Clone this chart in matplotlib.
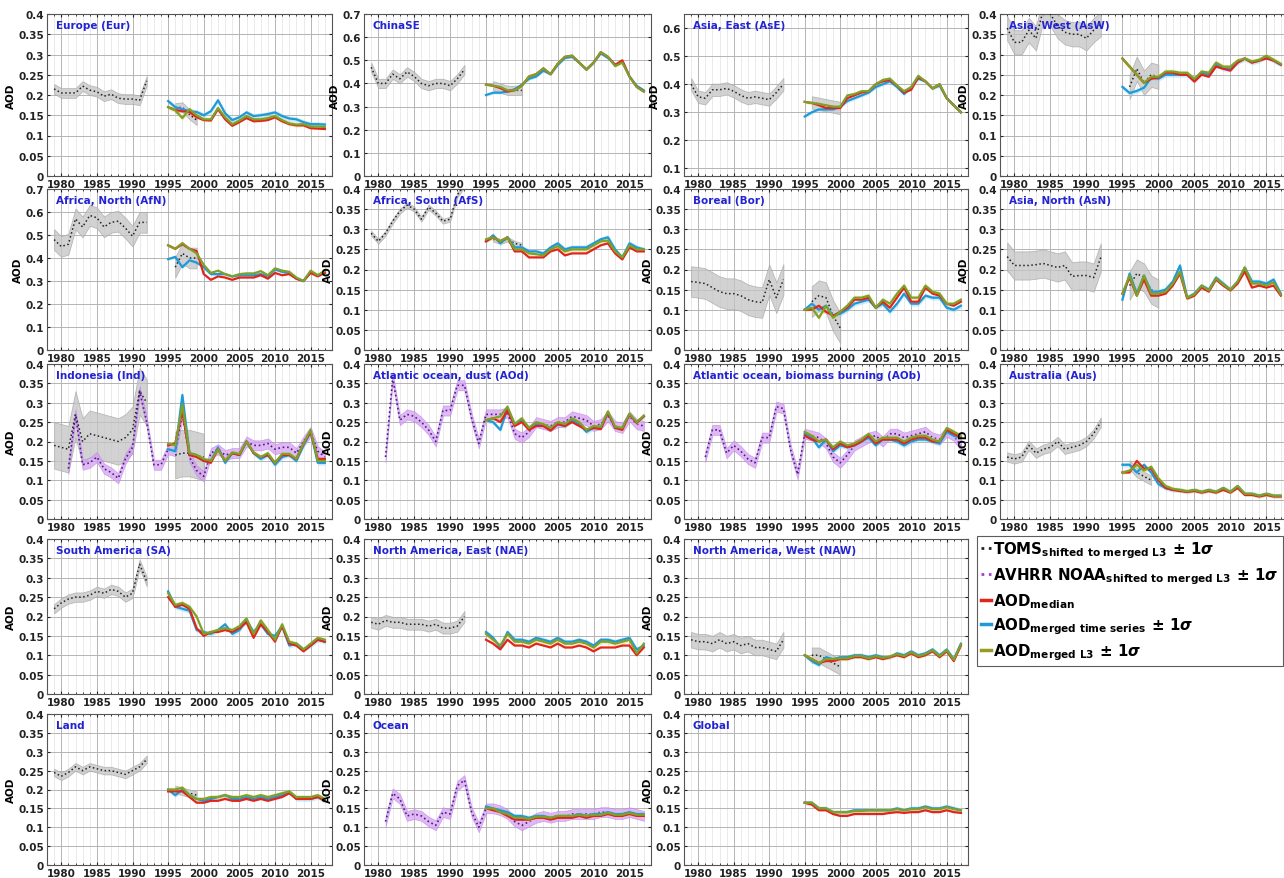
import numpy as np
import matplotlib.pyplot as plt
from matplotlib.ticker import MultipleLocator, FuncFormatter
from matplotlib.lines import Line2D

plt.rcParams['font.family'] = 'DejaVu Sans'
plt.rcParams['font.weight'] = 'bold'
plt.rcParams['mathtext.fontset'] = 'dejavusans'

# ---------------- data ----------------
yr_toms = np.arange(1979, 1993)
yr_avhrr = np.arange(1981, 2018)
yr_merged = np.arange(1995, 2018)

# Europe
eur_toms = [0.215, 0.205, 0.205, 0.205, 0.222, 0.212, 0.208, 0.197, 0.202, 0.192, 0.19, 0.19, 0.187, 0.235]
eur_toms2 = [0.168, 0.17, 0.152, 0.138]
eur_ts = [0.185, 0.17, 0.165, 0.16, 0.158, 0.15, 0.16, 0.187, 0.155, 0.138, 0.145, 0.157, 0.148, 0.15, 0.153, 0.157, 0.148, 0.142, 0.14, 0.133, 0.128, 0.128, 0.127]
eur_med = [0.17, 0.163, 0.16, 0.158, 0.145, 0.138, 0.137, 0.165, 0.14, 0.124, 0.133, 0.143, 0.135, 0.136, 0.138, 0.145, 0.135, 0.128, 0.125, 0.125, 0.118, 0.117, 0.116]
eur_l3 = [0.17, 0.162, 0.143, 0.165, 0.15, 0.14, 0.14, 0.168, 0.145, 0.128, 0.137, 0.148, 0.14, 0.14, 0.143, 0.148, 0.138, 0.13, 0.127, 0.128, 0.122, 0.122, 0.121]

# China SE
chn_toms = [0.47, 0.4, 0.4, 0.44, 0.42, 0.45, 0.43, 0.4, 0.39, 0.4, 0.4, 0.39, 0.42, 0.46]
chn_toms2 = [0.39, 0.38, 0.37, 0.37, 0.37]
chn_ts = [0.35, 0.36, 0.36, 0.365, 0.375, 0.395, 0.42, 0.43, 0.455, 0.44, 0.48, 0.51, 0.515, 0.49, 0.46, 0.49, 0.53, 0.51, 0.48, 0.495, 0.43, 0.39, 0.37]
chn_med = [0.395, 0.39, 0.38, 0.365, 0.37, 0.39, 0.43, 0.44, 0.465, 0.44, 0.485, 0.515, 0.52, 0.49, 0.46, 0.49, 0.535, 0.515, 0.48, 0.5, 0.43, 0.385, 0.365]
chn_l3 = [0.395, 0.39, 0.385, 0.37, 0.37, 0.39, 0.43, 0.44, 0.465, 0.44, 0.485, 0.515, 0.52, 0.49, 0.46, 0.49, 0.535, 0.515, 0.475, 0.49, 0.43, 0.385, 0.365]

# Asia East
ase_toms = [0.4, 0.355, 0.35, 0.38, 0.38, 0.385, 0.375, 0.36, 0.35, 0.355, 0.35, 0.345, 0.37, 0.4]
ase_toms2 = [0.335, 0.33, 0.325, 0.32, 0.315]
ase_ts = [0.285, 0.3, 0.31, 0.31, 0.31, 0.32, 0.34, 0.35, 0.36, 0.37, 0.39, 0.4, 0.41, 0.39, 0.365, 0.39, 0.42, 0.41, 0.385, 0.395, 0.35, 0.325, 0.3]
ase_med = [0.337, 0.333, 0.325, 0.315, 0.315, 0.315, 0.35, 0.36, 0.37, 0.375, 0.4, 0.41, 0.415, 0.395, 0.37, 0.38, 0.425, 0.41, 0.385, 0.4, 0.35, 0.325, 0.3]
ase_l3 = [0.337, 0.333, 0.33, 0.325, 0.32, 0.32, 0.36, 0.365, 0.375, 0.375, 0.4, 0.415, 0.42, 0.395, 0.375, 0.39, 0.43, 0.41, 0.385, 0.4, 0.35, 0.325, 0.3]

# Asia West
asw_toms = [0.365, 0.33, 0.33, 0.36, 0.34, 0.41, 0.4, 0.37, 0.355, 0.35, 0.35, 0.34, 0.36, 0.375]
asw_toms2 = [0.22, 0.265, 0.23, 0.25, 0.245]
asw_ts = [0.22, 0.205, 0.21, 0.218, 0.243, 0.24, 0.25, 0.25, 0.25, 0.25, 0.235, 0.255, 0.25, 0.275, 0.265, 0.265, 0.28, 0.29, 0.28, 0.285, 0.295, 0.285, 0.275]
asw_med = [0.29, 0.27, 0.25, 0.23, 0.24, 0.243, 0.255, 0.255, 0.25, 0.25, 0.233, 0.25, 0.245, 0.27, 0.265, 0.26, 0.28, 0.29, 0.28, 0.285, 0.29, 0.285, 0.275]
asw_l3 = [0.29, 0.27, 0.25, 0.23, 0.245, 0.245, 0.258, 0.258, 0.255, 0.255, 0.24, 0.258, 0.255, 0.28, 0.27, 0.27, 0.285, 0.29, 0.283, 0.287, 0.297, 0.287, 0.277]

# Africa North
afn_toms = [0.48, 0.45, 0.46, 0.57, 0.535, 0.585, 0.575, 0.535, 0.555, 0.56, 0.53, 0.495, 0.555, 0.555]
afn_toms2 = [0.36, 0.42, 0.4, 0.4]
afn_ts = [0.395, 0.405, 0.36, 0.39, 0.38, 0.36, 0.33, 0.33, 0.33, 0.32, 0.325, 0.325, 0.325, 0.33, 0.32, 0.35, 0.34, 0.335, 0.31, 0.3, 0.34, 0.325, 0.34]
afn_med = [0.455, 0.44, 0.46, 0.44, 0.43, 0.33, 0.305, 0.32, 0.315, 0.305, 0.315, 0.315, 0.315, 0.325, 0.31, 0.335, 0.325, 0.33, 0.31, 0.3, 0.335, 0.32, 0.335]
afn_l3 = [0.455, 0.44, 0.465, 0.44, 0.42, 0.37, 0.335, 0.345, 0.33, 0.32, 0.33, 0.333, 0.333, 0.343, 0.325, 0.355, 0.345, 0.34, 0.315, 0.3, 0.345, 0.325, 0.345]

# Africa South
afs_toms = [0.29, 0.27, 0.29, 0.32, 0.345, 0.36, 0.35, 0.325, 0.355, 0.34, 0.32, 0.325, 0.385, 0.41]
afs_toms2 = [0.275, 0.27, 0.275, 0.265, 0.26]
afs_ts = [0.27, 0.285, 0.265, 0.28, 0.255, 0.255, 0.245, 0.245, 0.24, 0.255, 0.265, 0.25, 0.255, 0.255, 0.255, 0.265, 0.275, 0.28, 0.25, 0.23, 0.265, 0.255, 0.25]
afs_med = [0.27, 0.28, 0.27, 0.28, 0.245, 0.245, 0.23, 0.23, 0.23, 0.245, 0.25, 0.235, 0.24, 0.24, 0.24, 0.25, 0.26, 0.265, 0.24, 0.225, 0.255, 0.245, 0.245]
afs_l3 = [0.275, 0.28, 0.27, 0.28, 0.25, 0.25, 0.24, 0.238, 0.235, 0.25, 0.258, 0.245, 0.25, 0.25, 0.25, 0.26, 0.27, 0.272, 0.245, 0.23, 0.26, 0.25, 0.25]

# Boreal
bor_toms = [0.17, 0.168, 0.165, 0.155, 0.145, 0.14, 0.14, 0.135, 0.125, 0.12, 0.118, 0.175, 0.13, 0.175]
bor_toms2 = [0.12, 0.135, 0.13, 0.085, 0.055]
bor_ts = [0.1, 0.115, 0.1, 0.11, 0.085, 0.09, 0.1, 0.115, 0.12, 0.125, 0.105, 0.115, 0.095, 0.115, 0.14, 0.115, 0.115, 0.135, 0.13, 0.13, 0.105, 0.1, 0.11]
bor_med = [0.1, 0.1, 0.11, 0.095, 0.085, 0.095, 0.105, 0.125, 0.125, 0.13, 0.105, 0.12, 0.105, 0.13, 0.155, 0.12, 0.12, 0.155, 0.14, 0.135, 0.115, 0.11, 0.12]
bor_l3 = [0.1, 0.105, 0.08, 0.11, 0.08, 0.095, 0.11, 0.13, 0.13, 0.135, 0.105, 0.125, 0.115, 0.14, 0.16, 0.13, 0.13, 0.16, 0.145, 0.14, 0.115, 0.115, 0.125]

# Asia North
asn_toms = [0.232, 0.21, 0.21, 0.21, 0.212, 0.215, 0.21, 0.205, 0.21, 0.183, 0.185, 0.185, 0.18, 0.23]
asn_toms2 = [0.16, 0.19, 0.18, 0.15, 0.14]
asn_ts = [0.125, 0.19, 0.14, 0.185, 0.145, 0.145, 0.15, 0.17, 0.21, 0.13, 0.14, 0.16, 0.15, 0.18, 0.165, 0.15, 0.17, 0.205, 0.17, 0.17, 0.165, 0.175, 0.14]
asn_med = [0.14, 0.18, 0.135, 0.175, 0.135, 0.135, 0.14, 0.16, 0.19, 0.128, 0.135, 0.155, 0.145, 0.175, 0.16, 0.148, 0.165, 0.195, 0.155, 0.16, 0.155, 0.16, 0.135]
asn_l3 = [0.14, 0.185, 0.135, 0.185, 0.14, 0.14, 0.145, 0.165, 0.195, 0.13, 0.138, 0.16, 0.148, 0.178, 0.163, 0.15, 0.17, 0.205, 0.165, 0.165, 0.16, 0.168, 0.138]

# Indonesia
ind_toms = [0.19, 0.185, 0.18, 0.27, 0.2, 0.22, 0.215, 0.21, 0.205, 0.2, 0.21, 0.23, 0.33, 0.3]
ind_toms2 = [0.165, 0.17, 0.17, 0.165, 0.16]
ind_avhrr = [0.13, 0.27, 0.14, 0.145, 0.16, 0.13, 0.12, 0.105, 0.155, 0.185, 0.33, 0.25, 0.14, 0.14, 0.18, 0.175, 0.27, 0.16, 0.125, 0.11, 0.17, 0.18, 0.165, 0.17, 0.17, 0.2, 0.19, 0.19, 0.195, 0.18, 0.185, 0.185, 0.17, 0.2, 0.225, 0.175, 0.16]
ind_ts = [0.18, 0.175, 0.32, 0.17, 0.165, 0.15, 0.15, 0.185, 0.145, 0.17, 0.165, 0.2, 0.17, 0.155, 0.165, 0.14, 0.16, 0.165, 0.15, 0.19, 0.225, 0.145, 0.145]
ind_med = [0.19, 0.195, 0.28, 0.165, 0.16, 0.15, 0.145, 0.18, 0.15, 0.17, 0.165, 0.2, 0.17, 0.16, 0.165, 0.145, 0.165, 0.165, 0.155, 0.195, 0.225, 0.155, 0.155]
ind_l3 = [0.195, 0.19, 0.295, 0.17, 0.165, 0.155, 0.15, 0.18, 0.15, 0.172, 0.168, 0.2, 0.172, 0.16, 0.17, 0.145, 0.168, 0.168, 0.155, 0.195, 0.23, 0.15, 0.15]

# Atlantic ocean, dust
aod_avhrr = [0.16, 0.365, 0.255, 0.27, 0.265, 0.25, 0.23, 0.2, 0.28, 0.28, 0.345, 0.345, 0.26, 0.195, 0.27, 0.27, 0.27, 0.275, 0.22, 0.21, 0.225, 0.25, 0.245, 0.24, 0.25, 0.25, 0.265, 0.26, 0.255, 0.24, 0.245, 0.265, 0.24, 0.235, 0.265, 0.245, 0.24]
aod_ts = [0.255, 0.25, 0.23, 0.285, 0.245, 0.255, 0.235, 0.245, 0.24, 0.235, 0.245, 0.24, 0.255, 0.245, 0.225, 0.235, 0.235, 0.275, 0.235, 0.235, 0.27, 0.25, 0.265]
aod_med = [0.255, 0.26, 0.25, 0.28, 0.24, 0.25, 0.23, 0.24, 0.24, 0.228, 0.245, 0.24, 0.25, 0.24, 0.23, 0.235, 0.232, 0.275, 0.235, 0.23, 0.27, 0.248, 0.265]
aod_l3 = [0.255, 0.26, 0.265, 0.29, 0.245, 0.26, 0.235, 0.25, 0.245, 0.235, 0.25, 0.245, 0.26, 0.25, 0.23, 0.24, 0.238, 0.278, 0.238, 0.235, 0.272, 0.25, 0.267]

# Atlantic ocean, biomass burning
aob_avhrr = [0.16, 0.23, 0.23, 0.17, 0.19, 0.175, 0.155, 0.145, 0.21, 0.21, 0.29, 0.285, 0.18, 0.115, 0.22, 0.215, 0.21, 0.195, 0.16, 0.145, 0.165, 0.19, 0.2, 0.21, 0.215, 0.2, 0.22, 0.22, 0.21, 0.215, 0.22, 0.225, 0.21, 0.205, 0.225, 0.215, 0.19]
aob_ts = [0.22, 0.21, 0.185, 0.205, 0.175, 0.19, 0.185, 0.19, 0.2, 0.21, 0.19, 0.205, 0.205, 0.2, 0.19, 0.2, 0.205, 0.205, 0.2, 0.195, 0.225, 0.215, 0.21]
aob_med = [0.215, 0.205, 0.2, 0.205, 0.18, 0.195, 0.185, 0.19, 0.2, 0.215, 0.195, 0.205, 0.205, 0.205, 0.195, 0.205, 0.21, 0.21, 0.2, 0.2, 0.23, 0.22, 0.21]
aob_l3 = [0.225, 0.215, 0.2, 0.205, 0.185, 0.2, 0.19, 0.195, 0.205, 0.22, 0.2, 0.21, 0.21, 0.21, 0.2, 0.21, 0.215, 0.215, 0.205, 0.2, 0.235, 0.225, 0.215]

# Australia
aus_toms = [0.16, 0.155, 0.16, 0.19, 0.17, 0.18, 0.185, 0.2, 0.18, 0.185, 0.19, 0.2, 0.22, 0.25]
aus_toms2 = [0.14, 0.12, 0.11, 0.1]
aus_ts = [0.14, 0.14, 0.12, 0.14, 0.12, 0.09, 0.08, 0.075, 0.075, 0.07, 0.075, 0.07, 0.075, 0.07, 0.08, 0.07, 0.085, 0.065, 0.065, 0.06, 0.065, 0.06, 0.06]
aus_med = [0.12, 0.12, 0.15, 0.13, 0.13, 0.1, 0.08, 0.075, 0.072, 0.07, 0.072, 0.068, 0.072, 0.068, 0.075, 0.068, 0.08, 0.062, 0.062, 0.058, 0.062, 0.058, 0.058]
aus_l3 = [0.12, 0.125, 0.14, 0.125, 0.135, 0.105, 0.085, 0.078, 0.075, 0.072, 0.075, 0.07, 0.075, 0.07, 0.08, 0.07, 0.085, 0.065, 0.065, 0.06, 0.065, 0.06, 0.06]

# South America
sa_toms = [0.22, 0.235, 0.245, 0.25, 0.25, 0.255, 0.265, 0.26, 0.27, 0.265, 0.25, 0.26, 0.335, 0.29]
sa_ts = [0.265, 0.225, 0.22, 0.215, 0.165, 0.16, 0.155, 0.165, 0.18, 0.155, 0.165, 0.19, 0.16, 0.18, 0.155, 0.15, 0.175, 0.125, 0.13, 0.115, 0.125, 0.14, 0.135]
sa_med = [0.25, 0.225, 0.23, 0.22, 0.17, 0.15, 0.16, 0.16, 0.165, 0.16, 0.17, 0.185, 0.145, 0.18, 0.16, 0.135, 0.175, 0.13, 0.125, 0.11, 0.125, 0.14, 0.135]
sa_l3 = [0.26, 0.23, 0.235, 0.225, 0.2, 0.155, 0.16, 0.165, 0.17, 0.165, 0.175, 0.195, 0.155, 0.19, 0.165, 0.14, 0.18, 0.135, 0.13, 0.115, 0.13, 0.145, 0.14]

# North America, East
nae_toms = [0.185, 0.18, 0.19, 0.185, 0.185, 0.18, 0.18, 0.18, 0.175, 0.18, 0.17, 0.17, 0.175, 0.2]
nae_ts = [0.16, 0.145, 0.12, 0.16, 0.14, 0.14, 0.135, 0.145, 0.14, 0.135, 0.145, 0.135, 0.135, 0.14, 0.135, 0.125, 0.14, 0.14, 0.135, 0.14, 0.145, 0.115, 0.125]
nae_med = [0.14, 0.13, 0.115, 0.14, 0.125, 0.125, 0.12, 0.13, 0.125, 0.12, 0.13, 0.12, 0.12, 0.125, 0.12, 0.11, 0.12, 0.12, 0.12, 0.125, 0.125, 0.1, 0.12]
nae_l3 = [0.155, 0.14, 0.125, 0.155, 0.135, 0.135, 0.13, 0.14, 0.135, 0.13, 0.14, 0.13, 0.13, 0.135, 0.13, 0.12, 0.135, 0.135, 0.13, 0.135, 0.14, 0.105, 0.13]

# North America, West
naw_toms = [0.14, 0.135, 0.135, 0.13, 0.14, 0.13, 0.135, 0.125, 0.13, 0.12, 0.12, 0.115, 0.11, 0.14]
naw_toms2 = [0.1, 0.1, 0.09, 0.08, 0.07]
naw_ts = [0.1, 0.085, 0.075, 0.095, 0.09, 0.095, 0.095, 0.1, 0.1, 0.095, 0.1, 0.095, 0.095, 0.105, 0.1, 0.11, 0.1, 0.105, 0.115, 0.1, 0.115, 0.09, 0.13]
naw_med = [0.1, 0.09, 0.08, 0.085, 0.085, 0.09, 0.09, 0.095, 0.095, 0.09, 0.095, 0.09, 0.095, 0.1, 0.095, 0.105, 0.095, 0.1, 0.11, 0.095, 0.11, 0.085, 0.125]
naw_l3 = [0.1, 0.09, 0.08, 0.09, 0.09, 0.092, 0.092, 0.098, 0.098, 0.092, 0.098, 0.093, 0.097, 0.103, 0.098, 0.108, 0.098, 0.103, 0.113, 0.098, 0.113, 0.088, 0.128]

# Land
lnd_toms = [0.245, 0.235, 0.245, 0.26, 0.25, 0.26, 0.255, 0.25, 0.25, 0.245, 0.24, 0.25, 0.26, 0.28]
lnd_toms2 = [0.2, 0.195, 0.19, 0.185]
lnd_ts = [0.2, 0.185, 0.2, 0.185, 0.175, 0.17, 0.175, 0.18, 0.185, 0.175, 0.175, 0.18, 0.175, 0.18, 0.175, 0.18, 0.185, 0.195, 0.175, 0.175, 0.175, 0.18, 0.17]
lnd_med = [0.195, 0.195, 0.195, 0.18, 0.165, 0.165, 0.17, 0.17, 0.175, 0.17, 0.17, 0.175, 0.17, 0.175, 0.17, 0.175, 0.18, 0.19, 0.175, 0.175, 0.175, 0.18, 0.17]
lnd_l3 = [0.2, 0.2, 0.205, 0.185, 0.175, 0.175, 0.18, 0.18, 0.185, 0.18, 0.18, 0.185, 0.18, 0.185, 0.18, 0.185, 0.19, 0.195, 0.18, 0.18, 0.18, 0.185, 0.175]

# Ocean
ocn_avhrr = [0.115, 0.19, 0.175, 0.13, 0.135, 0.13, 0.115, 0.105, 0.14, 0.135, 0.21, 0.225, 0.14, 0.1, 0.15, 0.15, 0.145, 0.135, 0.115, 0.105, 0.115, 0.125, 0.13, 0.125, 0.13, 0.13, 0.135, 0.135, 0.135, 0.135, 0.14, 0.14, 0.135, 0.135, 0.14, 0.135, 0.13]
ocn_ts = [0.155, 0.15, 0.145, 0.14, 0.13, 0.13, 0.125, 0.13, 0.13, 0.125, 0.13, 0.13, 0.13, 0.135, 0.13, 0.135, 0.135, 0.14, 0.135, 0.135, 0.14, 0.135, 0.135]
ocn_med = [0.15, 0.145, 0.14, 0.13, 0.12, 0.12, 0.12, 0.125, 0.125, 0.12, 0.125, 0.125, 0.125, 0.13, 0.125, 0.13, 0.13, 0.135, 0.13, 0.13, 0.135, 0.13, 0.13]
ocn_l3 = [0.15, 0.15, 0.14, 0.135, 0.125, 0.125, 0.122, 0.128, 0.128, 0.125, 0.13, 0.13, 0.13, 0.133, 0.13, 0.133, 0.133, 0.138, 0.133, 0.133, 0.138, 0.133, 0.133]

# Global
glb_ts = [0.165, 0.165, 0.15, 0.15, 0.14, 0.14, 0.14, 0.145, 0.145, 0.145, 0.145, 0.145, 0.145, 0.15, 0.145, 0.15, 0.15, 0.155, 0.15, 0.15, 0.155, 0.15, 0.145]
glb_med = [0.165, 0.16, 0.145, 0.145, 0.135, 0.13, 0.13, 0.135, 0.135, 0.135, 0.135, 0.135, 0.138, 0.14, 0.138, 0.14, 0.14, 0.145, 0.14, 0.14, 0.145, 0.14, 0.138]
glb_l3 = [0.165, 0.165, 0.15, 0.15, 0.14, 0.14, 0.14, 0.143, 0.143, 0.145, 0.145, 0.145, 0.145, 0.148, 0.145, 0.148, 0.148, 0.153, 0.148, 0.148, 0.153, 0.148, 0.145]

# ---------------- panels ----------------
panels = [
    (0, 0, 'Europe (Eur)', (0, 0.4), eur_toms, eur_toms2, 0.012, None, eur_ts, eur_med, eur_l3),
    (0, 1, 'ChinaSE', (0, 0.7), chn_toms, chn_toms2, 0.02, None, chn_ts, chn_med, chn_l3),
    (0, 2, 'Asia, East (AsE)', (0.073, 0.65), ase_toms, ase_toms2, 0.022, None, ase_ts, ase_med, ase_l3),
    (0, 3, 'Asia, West (AsW)', (0, 0.4), asw_toms, asw_toms2, 0.03, None, asw_ts, asw_med, asw_l3),
    (1, 0, 'Africa, North (AfN)', (0, 0.7), afn_toms, afn_toms2, 0.045, None, afn_ts, afn_med, afn_l3),
    (1, 1, 'Africa, South (AfS)', (0, 0.4), afs_toms, afs_toms2, 0.006, None, afs_ts, afs_med, afs_l3),
    (1, 2, 'Boreal (Bor)', (0, 0.4), bor_toms, bor_toms2, 0.038, None, bor_ts, bor_med, bor_l3),
    (1, 3, 'Asia, North (AsN)', (0, 0.4), asn_toms, asn_toms2, 0.035, None, asn_ts, asn_med, asn_l3),
    (2, 0, 'Indonesia (Ind)', (0, 0.4), ind_toms, ind_toms2, 0.06, ind_avhrr, ind_ts, ind_med, ind_l3),
    (2, 1, 'Atlantic ocean, dust (AOd)', (0, 0.4), None, None, 0, aod_avhrr, aod_ts, aod_med, aod_l3),
    (2, 2, 'Atlantic ocean, biomass burning (AOb)', (0, 0.4), None, None, 0, aob_avhrr, aob_ts, aob_med, aob_l3),
    (2, 3, 'Australia (Aus)', (0, 0.4), aus_toms, aus_toms2, 0.012, None, aus_ts, aus_med, aus_l3),
    (3, 0, 'South America (SA)', (0, 0.4), sa_toms, None, 0.012, None, sa_ts, sa_med, sa_l3),
    (3, 1, 'North America, East (NAE)', (0, 0.4), nae_toms, None, 0.014, None, nae_ts, nae_med, nae_l3),
    (3, 2, 'North America, West (NAW)', (0, 0.4), naw_toms, naw_toms2, 0.02, None, naw_ts, naw_med, naw_l3),
    (4, 0, 'Land', (0, 0.4), lnd_toms, lnd_toms2, 0.01, None, lnd_ts, lnd_med, lnd_l3),
    (4, 1, 'Ocean', (0, 0.4), None, None, 0, ocn_avhrr, ocn_ts, ocn_med, ocn_l3),
    (4, 2, 'Global', (0, 0.4), None, None, 0, None, glb_ts, glb_med, glb_l3),
]

W, H = 1284, 879
col_x = [(47, 332), (364, 651), (684, 968), (1000, 1288)]
row_y = [(15, 177), (190, 351), (365, 520), (540, 695), (715, 866)]

c_toms = '#222222'
c_toms_band = '#c4c4c4'
c_avhrr = '#4a1f82'
c_avhrr_band = '#d39bf2'
c_med = '#e3241b'
c_ts = '#1e9ad8'
c_l3 = '#7fa02a'
c_title = '#2323d2'

fig = plt.figure(figsize=(12.84, 8.79), dpi=100)

fmt = FuncFormatter(lambda v, _: f'{v:.2f}'.rstrip('0').rstrip('.'))

for r, c, title, ylim, toms, toms2, sd, avhrr, ts, med, l3 in panels:
    x0, x1 = col_x[c]
    y0, y1 = row_y[r]
    ax = fig.add_axes([x0 / W, 1 - y1 / H, (x1 - x0) / W, (y1 - y0) / H])
    ax.set_xlim(1978, 2018)
    ax.set_ylim(*ylim)

    if toms is not None:
        v = np.array(toms)
        ax.fill_between(yr_toms, v - sd, v + sd, color=c_toms_band, alpha=0.75,
                        edgecolor='#a8a8a8', lw=0.6, zorder=2)
        ax.plot(yr_toms, v, ':', color=c_toms, lw=1.1, zorder=3)
    if toms2 is not None:
        v = np.array(toms2)
        yy = np.arange(1996, 1996 + len(v))
        ax.fill_between(yy, v - sd, v + sd, color=c_toms_band, alpha=0.75,
                        edgecolor='#a8a8a8', lw=0.6, zorder=2)
        ax.plot(yy, v, ':', color=c_toms, lw=1.1, zorder=3)
    if avhrr is not None:
        v = np.array(avhrr)
        ax.fill_between(yr_avhrr, v - 0.013, v + 0.013, color=c_avhrr_band, alpha=0.7,
                        edgecolor='#c080ea', lw=0.5, zorder=2)
        ax.plot(yr_avhrr, v, ':', color=c_avhrr, lw=1.2, zorder=3)

    ts = np.array(ts)
    l3 = np.array(l3)
    ax.fill_between(yr_merged, ts - 0.006, ts + 0.006, color='#8fd3f4', alpha=0.45, lw=0, zorder=4)
    ax.fill_between(yr_merged, l3 - 0.006, l3 + 0.006, color='#e6d77a', alpha=0.45, lw=0, zorder=4)
    ax.plot(yr_merged, ts, color=c_ts, lw=1.6, zorder=5)
    ax.plot(yr_merged, med, color=c_med, lw=1.6, zorder=6)
    ax.plot(yr_merged, l3, color=c_l3, lw=1.6, zorder=7)

    ax.xaxis.set_minor_locator(MultipleLocator(1))
    step = 0.1 if ylim[1] > 0.5 else 0.05
    ax.yaxis.set_major_locator(MultipleLocator(step))
    ax.yaxis.set_major_formatter(fmt)
    ax.set_xticks(np.arange(1980, 2016, 5))
    ax.grid(which='major', color='#b4b4b4', lw=0.7, zorder=0)
    ax.grid(which='minor', axis='x', color='#e2e2e2', lw=0.5, zorder=0)
    ax.set_axisbelow(True)
    ax.tick_params(which='both', direction='in', labelsize=7.5, colors='#222222',
                   top=True, right=True, pad=2)
    ax.tick_params(which='major', length=2.5)
    ax.tick_params(which='minor', length=1.2)
    for lab in ax.get_xticklabels() + ax.get_yticklabels():
        lab.set_fontweight('bold')
    for s in ax.spines.values():
        s.set_color('#555555')
        s.set_linewidth(0.8)
    ax.set_ylabel('AOD', fontsize=7.5, fontweight='bold', labelpad=2)
    ax.text(0.03, 0.96, title, transform=ax.transAxes, ha='left', va='top',
            color=c_title, fontsize=7.5, fontweight='bold', zorder=10)

handles = [
    Line2D([], [], color=c_toms, ls=':', lw=2),
    Line2D([], [], color='#a040d0', ls=':', lw=2),
    Line2D([], [], color=c_med, lw=2.5),
    Line2D([], [], color=c_ts, lw=2.5),
    Line2D([], [], color='#9a9a22', lw=2.5),
]
labels = [
    r'$\mathbf{TOMS}_{\mathbf{shifted\ to\ merged\ L3}}\,\pm\,\mathbf{1}\sigma$',
    r'$\mathbf{AVHRR\ NOAA}_{\mathbf{shifted\ to\ merged\ L3}}\,\pm\,\mathbf{1}\sigma$',
    r'$\mathbf{AOD}_{\mathbf{median}}$',
    r'$\mathbf{AOD}_{\mathbf{merged\ time\ series}}\,\pm\,\mathbf{1}\sigma$',
    r'$\mathbf{AOD}_{\mathbf{merged\ L3}}\,\pm\,\mathbf{1}\sigma$',
]
leg = fig.legend(handles, labels, loc='upper left', bbox_to_anchor=(977 / W, 1 - 537 / H),
                 fontsize=10.8, handlelength=0.7, handletextpad=0.15, borderpad=0.25,
                 labelspacing=0.35, borderaxespad=0, frameon=True, fancybox=False)
leg.get_frame().set_edgecolor('#333333')
leg.get_frame().set_linewidth(0.8)

fig.savefig('out.png', dpi=100)
